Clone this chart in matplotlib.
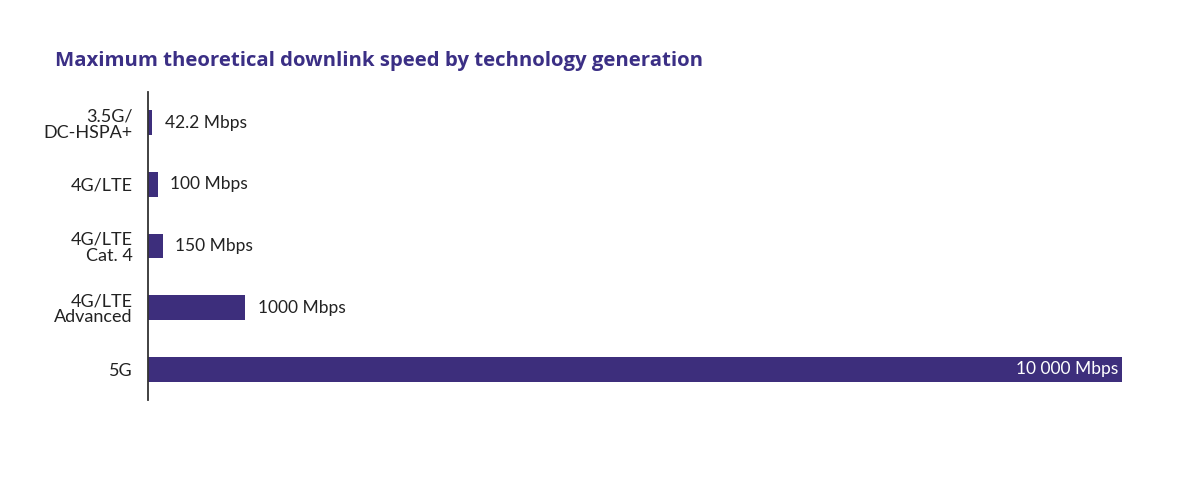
import matplotlib
matplotlib.use("Agg")
import matplotlib.pyplot as plt
import numpy as np

# data
technologies = ["3.5G/\nDC-HSPA+", "4G/LTE", "4G/LTE\nCat. 4", "4G/LTE\nAdvanced", "5G"]
speeds_mbps = [42.2, 100, 150, 1000, 10000]
speed_labels = ["42.2 Mbps", "100 Mbps", "150 Mbps", "1000 Mbps", "10 000 Mbps"]

bar_color = "#3d2e7c"
title_color = "#3b2f85"
text_color = "#222222"

plt.rcParams["font.family"] = ["Lato", "DejaVu Sans"]

fig = plt.figure(figsize=(12, 4.84), dpi=100)
ax = fig.add_axes([148 / 1200, 1 - 400 / 484, (1122 - 148) / 1200, 308 / 484])

y = np.arange(len(technologies))
ax.barh(y, speeds_mbps, height=0.4, color=bar_color)

ax.set_xlim(0, max(speeds_mbps))
ax.set_ylim(len(technologies) - 0.5, -0.5)

ax.set_yticks(y)
ax.set_yticklabels(technologies, fontsize=13, color=text_color, linespacing=1.02)
ax.tick_params(axis="y", length=0, pad=11)
ax.set_xticks([])

for s in ["top", "right", "bottom"]:
    ax.spines[s].set_visible(False)
ax.spines["left"].set_color("#333333")
ax.spines["left"].set_linewidth(1.3)

# value labels
for i, (v, lab) in enumerate(zip(speeds_mbps, speed_labels)):
    if v == max(speeds_mbps):
        ax.annotate(lab, xy=(v, i), xytext=(-3, 0), textcoords="offset points",
                    ha="right", va="center", fontsize=12.5, color="white")
    else:
        ax.annotate(lab, xy=(v, i), xytext=(9, 0), textcoords="offset points",
                    ha="left", va="center", fontsize=12.5, color=text_color)

fig.text(55 / 1200, 1 - 61 / 484, "Maximum theoretical downlink speed by technology generation",
         ha="left", va="center", fontsize=14.7, fontweight="bold", color=title_color,
         family=["Open Sans", "DejaVu Sans"])

fig.savefig("out.png", dpi=100, facecolor="white")
